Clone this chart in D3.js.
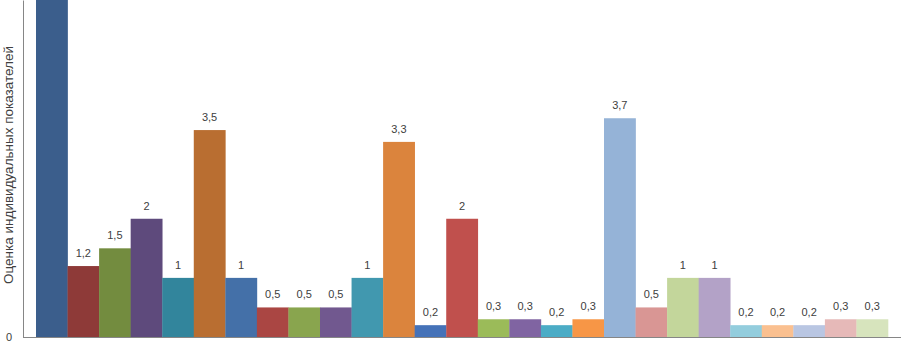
<!DOCTYPE html>
<html>
<head>
<meta charset="utf-8">
<script src="https://cdn.jsdelivr.net/npm/d3@7"></script>
<style>
    body { margin: 0; background: #fff; }
    svg { display: block; }
</style>
</head>
<body>
<svg id="chart" width="901" height="343"></svg>
<script>
// values; the first bar runs past the top edge
const values = [6, 1.2, 1.5, 2, 1, 3.5, 1, 0.5, 0.5, 0.5, 1, 3.3, 0.2, 2, 0.3, 0.3, 0.2, 0.3, 3.7, 0.5, 1, 1, 0.2, 0.2, 0.2, 0.3, 0.3];
const colors = [
    "#3b5e8c", "#8e3a38", "#738c3f", "#5e4a7c", "#32859c", "#b96e31", "#4470a8",
    "#aa4643", "#89a54e", "#71588f", "#4198af", "#db843d", "#4572b8", "#c0504d",
    "#9bbb59", "#8064a2", "#4bacc6", "#f79646", "#95b3d7", "#d99694", "#c3d69b",
    "#b3a2c7", "#93cddd", "#fac090", "#b9c6e2", "#e6b9b8", "#d7e4bd"
];
const yTicks = [0];
const yTitle = "Оценка индивидуальных показателей";

const svg = d3.select("#chart");
const FONT = "'Liberation Sans', Arial, sans-serif";

const baseY = 337, axisX = 23;

const x = d3.scaleBand()
    .domain(d3.range(values.length))
    .range([36, 888])
    .padding(0);

const y = d3.scaleLinear()
    .domain([0, 5.7])
    .range([baseY, 0]);

const fmt = d3.formatLocale({ decimal: ",", thousands: " ", grouping: [3], currency: ["", ""] }).format("~g");

// bars
svg.append("g").attr("id", "bars")
    .selectAll("rect")
    .data(values)
    .join("rect")
    .attr("x", (d, i) => x(i))
    .attr("y", d => y(d))
    .attr("width", x.bandwidth() + 0.3)
    .attr("height", d => baseY - y(d))
    .attr("fill", (d, i) => colors[i]);

// value labels (the first one would sit above the picture)
svg.append("g").attr("id", "labels")
    .selectAll("text")
    .data(values.map((v, i) => ({ v, i })).filter(d => y(d.v) > 20))
    .join("text")
    .attr("x", d => x(d.i) + x.bandwidth() / 2)
    .attr("y", d => y(d.v) - 9)
    .attr("text-anchor", "middle")
    .attr("font-family", FONT)
    .attr("font-size", 11)
    .attr("fill", "#404040")
    .text(d => fmt(d.v));

// y axis
const yAxis = svg.append("g")
    .attr("id", "yAxis")
    .attr("transform", "translate(" + axisX + ",0)")
    .call(d3.axisLeft(y).tickValues(yTicks).tickSize(0).tickPadding(11).tickFormat(fmt));
yAxis.select("path.domain").attr("stroke", "#868686");
yAxis.selectAll("text")
    .attr("font-family", FONT)
    .attr("font-size", 11)
    .attr("fill", "#404040");

// baseline
svg.append("line")
    .attr("x1", axisX).attr("x2", 901)
    .attr("y1", baseY + 0.5).attr("y2", baseY + 0.5)
    .attr("stroke", "#868686");

// axis title
svg.append("text")
    .attr("transform", "translate(13," + 165 + ") rotate(-90)")
    .attr("text-anchor", "middle")
    .attr("font-family", FONT)
    .attr("font-size", 13.5)
    .attr("fill", "#404040")
    .text(yTitle);
</script>
</body>
</html>
